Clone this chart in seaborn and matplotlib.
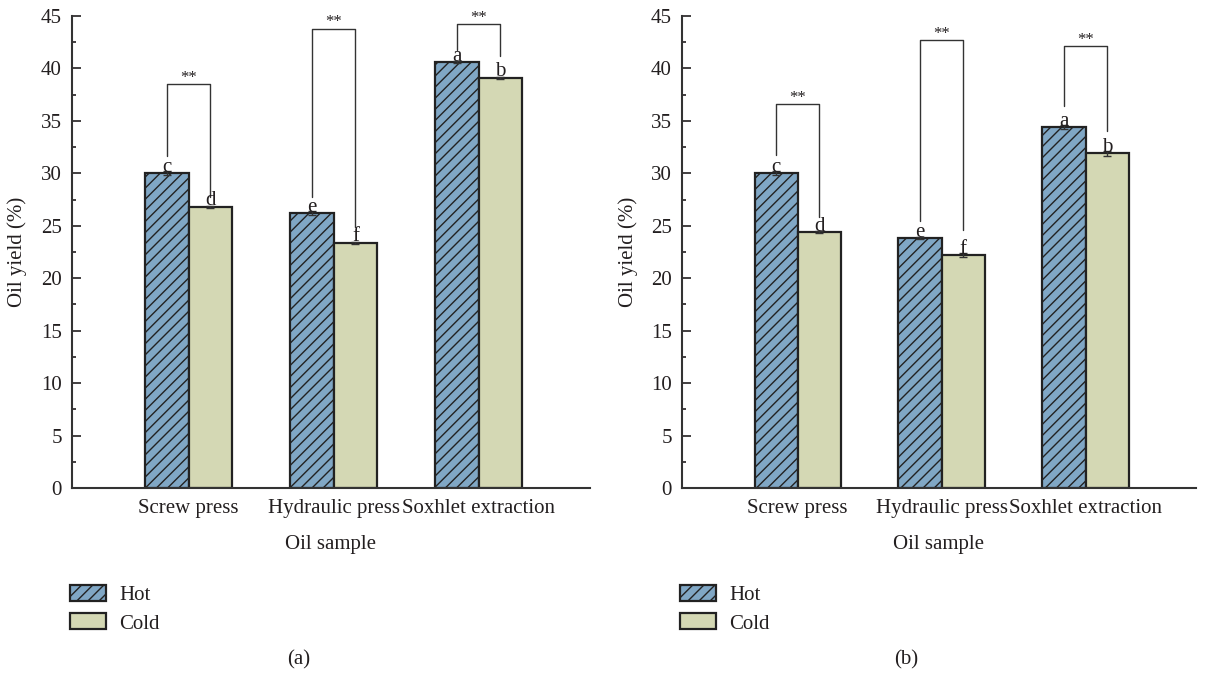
import matplotlib
matplotlib.use('Agg')
import matplotlib.pyplot as plt
import pandas as pd
import seaborn as sns
from matplotlib.ticker import MultipleLocator

# Data
samples = ['Screw press', 'Hydraulic press', 'Soxhlet extraction']
conditions = ['Hot', 'Cold']

hot_a = [30.0, 26.2, 40.6]
cold_a = [26.8, 23.4, 39.1]
err_hot_a = [0.2, 0.2, 0.1]
err_cold_a = [0.1, 0.1, 0.1]

hot_b = [30.0, 23.8, 34.4]
cold_b = [24.4, 22.2, 31.9]
err_hot_b = [0.2, 0.1, 0.2]
err_cold_b = [0.1, 0.2, 0.2]

letters_hot = ['c', 'e', 'a']
letters_cold = ['d', 'f', 'b']

# significance brackets: top, left leg end, right leg end
br_top_a = [38.5, 43.8, 44.2]
br_left_a = [31.7, 27.7, 41.75]
br_right_a = [27.7, 24.9, 41.2]

br_top_b = [36.6, 42.7, 42.1]
br_left_b = [31.75, 25.5, 36.4]
br_right_b = [25.8, 24.6, 34.0]

hot_color = '#80a7c5'
cold_color = '#d4d8b4'
ink = '#231f20'
fs = 15

sns.set_style('ticks')
plt.rcParams['font.family'] = ['Liberation Serif', 'DejaVu Serif']
plt.rcParams['hatch.linewidth'] = 1.0
plt.rcParams['hatch.color'] = '#222222'
plt.rcParams['text.color'] = ink
plt.rcParams['axes.labelcolor'] = ink
plt.rcParams['xtick.color'] = ink
plt.rcParams['ytick.color'] = ink


def draw_panel(ax, hot, cold, err_hot, err_cold, br_top, br_left, br_right):
    df = pd.DataFrame({
        'sample': samples * 2,
        'condition': ['Hot'] * 3 + ['Cold'] * 3,
        'value': hot + cold,
    })
    sns.barplot(data=df, x='sample', y='value', hue='condition', hue_order=conditions,
                palette=[hot_color, cold_color], saturation=1, width=0.6, errorbar=None,
                edgecolor='#222222', linewidth=1.6, legend=False, ax=ax)

    hot_bars = ax.containers[0]
    cold_bars = ax.containers[1]
    for b in hot_bars:
        b.set_hatch('///')

    hot_x = [b.get_x() + b.get_width() / 2 for b in hot_bars]
    cold_x = [b.get_x() + b.get_width() / 2 for b in cold_bars]

    ax.errorbar(hot_x, hot, yerr=err_hot, fmt='none', ecolor='#333333', elinewidth=1, capsize=3)
    ax.errorbar(cold_x, cold, yerr=err_cold, fmt='none', ecolor='#333333', elinewidth=1, capsize=3)

    for i in range(3):
        ax.text(hot_x[i], hot[i] + 0.15, letters_hot[i], ha='center', va='baseline', fontsize=fs)
        ax.text(cold_x[i], cold[i] + 0.15, letters_cold[i], ha='center', va='baseline', fontsize=fs)
        ax.plot([hot_x[i], hot_x[i], cold_x[i], cold_x[i]],
                [br_left[i], br_top[i], br_top[i], br_right[i]],
                color='#333333', lw=1, clip_on=False)
        ax.text((hot_x[i] + cold_x[i]) / 2, br_top[i] + 0.25, '**', ha='center',
                va='baseline', fontsize=12)

    ax.set_xlim(-0.807, 2.767)
    ax.set_ylim(0, 45)
    ax.yaxis.set_major_locator(MultipleLocator(5))
    ax.yaxis.set_minor_locator(MultipleLocator(2.5))
    ax.tick_params(axis='y', which='major', direction='in', length=6.5, width=1.2, labelsize=fs, pad=7)
    ax.tick_params(axis='y', which='minor', direction='in', length=3, width=1.2)
    ax.tick_params(axis='x', length=0, labelsize=fs, pad=8)
    sns.despine(ax=ax)
    for s in ['left', 'bottom']:
        ax.spines[s].set_linewidth(1.5)
        ax.spines[s].set_color('#333333')

    ax.set_ylabel('Oil yield (%)', fontsize=fs)
    ax.yaxis.set_label_coords(-0.085, 0.5)
    ax.set_xlabel('Oil sample', fontsize=fs)
    ax.xaxis.set_label_coords(0.5, -0.1)

    ax.legend(handles=[hot_bars[0], cold_bars[0]], labels=conditions, loc='upper left',
              bbox_to_anchor=(-0.003, -0.205), frameon=False, fontsize=fs,
              handlelength=1.75, handleheight=0.8, handletextpad=0.62,
              labelspacing=0.4, borderpad=0, borderaxespad=0)


fig = plt.figure(figsize=(12.08, 6.76), dpi=100)
ax_a = fig.add_axes([0.0592, 0.2781, 0.4292, 0.6982])
ax_b = fig.add_axes([0.5642, 0.2781, 0.4259, 0.6982])

draw_panel(ax_a, hot_a, cold_a, err_hot_a, err_cold_a, br_top_a, br_left_a, br_right_a)
draw_panel(ax_b, hot_b, cold_b, err_hot_b, err_cold_b, br_top_b, br_left_b, br_right_b)

fig.text(0.2475, 0.024, '(a)', ha='center', va='center', fontsize=fs)
fig.text(0.75, 0.024, '(b)', ha='center', va='center', fontsize=fs)

fig.savefig('out.png', dpi=100)
